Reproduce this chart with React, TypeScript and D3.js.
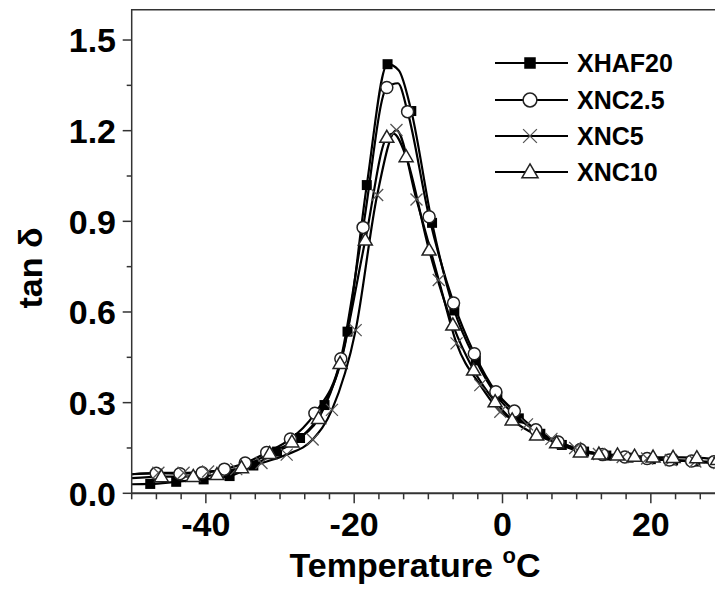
import React, { useEffect, useRef } from 'react';
import * as d3 from 'd3';

// tan delta vs temperature
const seriesNames = ['XHAF20', 'XNC2.5', 'XNC5', 'XNC10'];

// marker points [T, tan d]
const xhaf20 = [[-47.5, 0.031], [-44, 0.038], [-40.3, 0.046], [-36.8, 0.057], [-33.6, 0.092], [-30.4, 0.138], [-27.3, 0.183], [-24.0, 0.292], [-20.9, 0.535], [-18.3, 1.02], [-15.5, 1.42], [-12.3, 1.265], [-9.5, 0.895], [-6.5, 0.605], [-3.6, 0.44], [-0.7, 0.32], [2.2, 0.248], [5.1, 0.197], [8.0, 0.16], [11.0, 0.138], [14.0, 0.125], [17.0, 0.118], [20.0, 0.113], [23.0, 0.109], [26.0, 0.105], [29.0, 0.1]];
const xnc25 = [[-46.7, 0.066], [-43.5, 0.065], [-40.5, 0.068], [-37.5, 0.08], [-34.7, 0.1], [-31.8, 0.135], [-28.6, 0.18], [-25.3, 0.265], [-21.8, 0.445], [-18.8, 0.88], [-15.6, 1.343], [-12.8, 1.263], [-9.9, 0.915], [-6.6, 0.63], [-3.8, 0.462], [-0.9, 0.336], [1.6, 0.272], [4.5, 0.21], [7.5, 0.17], [10.5, 0.145], [13.5, 0.128], [16.5, 0.12], [19.5, 0.115], [22.5, 0.11], [25.5, 0.107], [28.5, 0.104]];
const xnc5 = [[-46.4, 0.068], [-43, 0.068], [-39.7, 0.072], [-35.9, 0.08], [-32.5, 0.1], [-29.1, 0.128], [-25.6, 0.178], [-23.0, 0.276], [-19.8, 0.54], [-16.9, 0.987], [-14.3, 1.202], [-11.6, 0.972], [-8.6, 0.706], [-6.2, 0.496], [-3.0, 0.358], [-0.3, 0.27], [3.3, 0.228], [6.6, 0.18], [9.8, 0.15], [13, 0.13], [16.2, 0.12], [19.5, 0.115], [22.7, 0.11], [26, 0.105], [29.2, 0.1]];
const xnc10 = [[-46, 0.055], [-41.7, 0.056], [-38.5, 0.062], [-35.2, 0.085], [-31.4, 0.132], [-28.4, 0.17], [-24.8, 0.248], [-21.9, 0.43], [-18.5, 0.838], [-15.6, 1.178], [-13.0, 1.114], [-9.9, 0.805], [-6.7, 0.557], [-3.9, 0.408], [-1.0, 0.303], [1.3, 0.243], [4.6, 0.193], [7.3, 0.167], [10.5, 0.137], [13, 0.13], [15.5, 0.127], [17.8, 0.123], [20.3, 0.12], [23, 0.119], [26.2, 0.118], [29, 0.112]];

// extra line-only points (no marker)
const xhaf20Line = [[-50, 0.03], [-14, 1.40]];
const xnc25Line = [[-50, 0.063], [-14.1, 1.357]];
const xnc5Line = [[-50, 0.063]];
const xnc10Line = [[-50, 0.05], [-14.7, 1.19]];

const xMajorTicks = [-40, -20, 0, 20];
const yMajorTicks = [0, 0.3, 0.6, 0.9, 1.2, 1.5];

const W = 715, H = 590;
const left = 131.7, top = 9.8, right = 725, bottom = 493.3;
const font = '"Liberation Sans", Arial, sans-serif';

const App = () => {
    const anchor = useRef(null);

    useEffect(() => {
        const svg = d3.select(anchor.current);
        svg.selectAll('*').remove();

        const x = d3.scaleLinear().domain([-50, 30]).range([left, right]);
        const y = d3.scaleLinear().domain([0, 1.6]).range([bottom, top]);

        const series = [
            { name: seriesNames[0], pts: xhaf20, extra: xhaf20Line, sym: 'square' },
            { name: seriesNames[1], pts: xnc25, extra: xnc25Line, sym: 'circle' },
            { name: seriesNames[2], pts: xnc5, extra: xnc5Line, sym: 'cross' },
            { name: seriesNames[3], pts: xnc10, extra: xnc10Line, sym: 'triangle' },
        ];

        const line = d3.line().x(d => x(d[0])).y(d => y(d[1])).curve(d3.curveMonotoneX);

        function drawSymbol(g, sym, cx, cy, big) {
            const s = big ? 1.15 : 1;
            if (sym === 'square') {
                g.append('rect').attr('x', cx - 5 * s).attr('y', cy - 5 * s)
                    .attr('width', 10 * s).attr('height', 10 * s).attr('fill', '#000');
            } else if (sym === 'circle') {
                g.append('circle').attr('cx', cx).attr('cy', cy).attr('r', 6 * s)
                    .attr('fill', '#fff').attr('stroke', '#222').attr('stroke-width', 1.5);
            } else if (sym === 'cross') {
                const r = 6 * s;
                g.append('path')
                    .attr('d', `M${cx - r},${cy - r}L${cx + r},${cy + r}M${cx - r},${cy + r}L${cx + r},${cy - r}`)
                    .attr('stroke', '#555').attr('stroke-width', 1.3).attr('fill', 'none');
            } else {
                const r = 7 * s;
                g.append('path')
                    .attr('d', `M${cx},${cy - r}L${cx + r},${cy + r * 0.72}L${cx - r},${cy + r * 0.72}Z`)
                    .attr('fill', '#fff').attr('stroke', '#222').attr('stroke-width', 1.5);
            }
        }

        svg.append('clipPath').attr('id', 'plotclip').append('rect')
            .attr('x', left).attr('y', top).attr('width', right - left).attr('height', bottom - top);

        const plot = svg.append('g').attr('clip-path', 'url(#plotclip)');

        series.forEach(s => {
            const all = s.pts.concat(s.extra).sort((a, b) => a[0] - b[0]);
            plot.append('path').attr('d', line(all)).attr('fill', 'none')
                .attr('stroke', '#000').attr('stroke-width', 2.2);
        });
        series.forEach(s => {
            const g = plot.append('g');
            s.pts.forEach(p => drawSymbol(g, s.sym, x(p[0]), y(p[1]), false));
        });

        // frame
        svg.append('path')
            .attr('d', `M${left},${bottom}L${left},${top}L${right},${top}`)
            .attr('fill', 'none').attr('stroke', '#333').attr('stroke-width', 1.5);
        svg.append('line').attr('x1', left).attr('x2', right).attr('y1', bottom).attr('y2', bottom)
            .attr('stroke', '#333').attr('stroke-width', 2);

        // x ticks
        const xMinor = d3.range(0, 25).map(i => -50 + i * 20 / 6);
        xMinor.forEach(t => {
            const major = xMajorTicks.some(m => Math.abs(m - t) < 1e-6);
            svg.append('line').attr('x1', x(t)).attr('x2', x(t))
                .attr('y1', bottom).attr('y2', bottom + (major ? 10 : 6))
                .attr('stroke', '#333').attr('stroke-width', 1.5);
        });
        svg.selectAll('.xlab').data(xMajorTicks).enter().append('text')
            .attr('x', d => x(d)).attr('y', 536).attr('text-anchor', 'middle')
            .style('font-family', font).style('font-weight', 'bold').style('font-size', '34px')
            .text(d => d);

        // y ticks
        d3.range(0, 11).map(i => i * 0.15).forEach(v => {
            const major = i => i;
            const isMajor = yMajorTicks.some(m => Math.abs(m - v) < 1e-6);
            svg.append('line').attr('x1', left).attr('x2', left - (isMajor ? 9 : 5))
                .attr('y1', y(v)).attr('y2', y(v))
                .attr('stroke', '#333').attr('stroke-width', 1.5);
        });
        svg.selectAll('.ylab').data(yMajorTicks).enter().append('text')
            .attr('x', 116).attr('y', d => y(d)).attr('dy', '0.36em').attr('text-anchor', 'end')
            .style('font-family', font).style('font-weight', 'bold').style('font-size', '34px')
            .text(d => d.toFixed(1));

        // axis titles
        const xt = svg.append('text').attr('x', 415).attr('y', 577).attr('text-anchor', 'middle')
            .style('font-family', font).style('font-weight', 'bold').style('font-size', '34px');
        xt.append('tspan').text('Temperature ');
        xt.append('tspan').attr('dy', -14).style('font-size', '22px').text('o');
        xt.append('tspan').attr('dy', 14).text('C');

        svg.append('text').attr('transform', 'translate(42,268) rotate(-90)')
            .attr('text-anchor', 'middle')
            .style('font-family', font).style('font-weight', 'bold').style('font-size', '34px')
            .text('tan δ');

        // legend
        const legendY = [63, 100, 136, 172];
        series.forEach((s, i) => {
            const g = svg.append('g');
            g.append('line').attr('x1', 495).attr('x2', 568).attr('y1', legendY[i]).attr('y2', legendY[i])
                .attr('stroke', '#000').attr('stroke-width', 2.2);
            drawSymbol(g, s.sym, 530, legendY[i], true);
            g.append('text').attr('x', 577).attr('y', legendY[i]).attr('dy', '0.36em')
                .style('font-family', font).style('font-weight', 'bold').style('font-size', '25px')
                .text(s.name);
        });
    }, []);

    return <React.Fragment>
        <svg ref={anchor} width={W} height={H}
            style={{ position: 'absolute', left: 0, top: 0, background: '#fff' }} />
    </React.Fragment>;
};

export default App;
